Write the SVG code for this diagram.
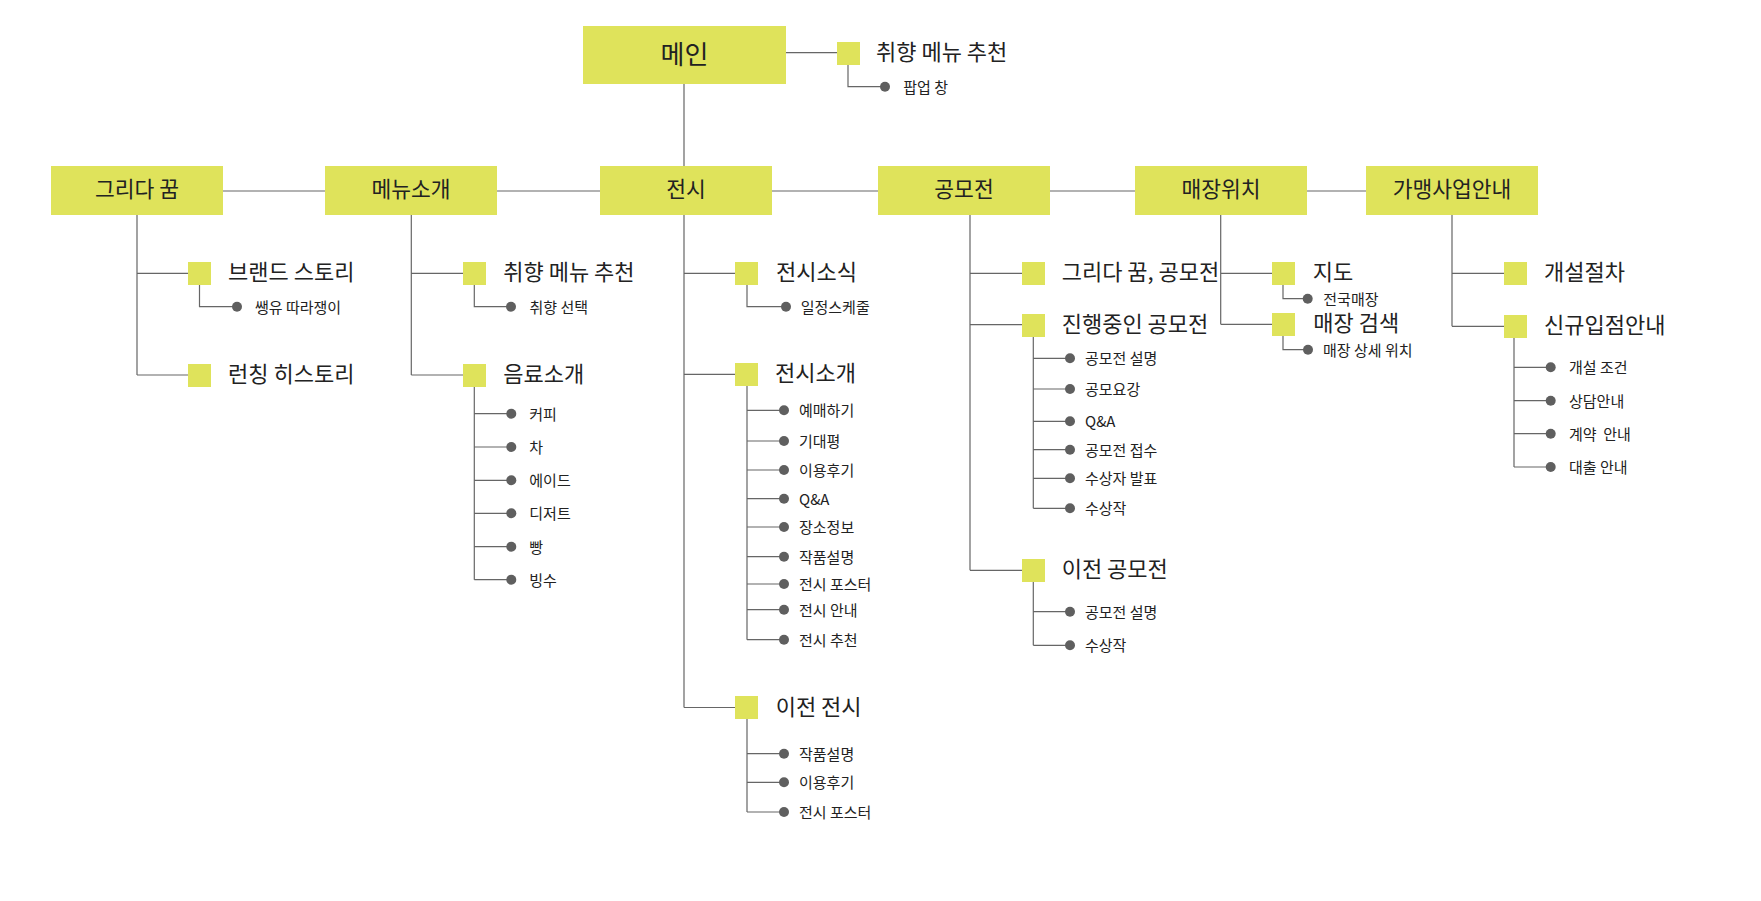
<svg xmlns="http://www.w3.org/2000/svg" width="1761" height="901" viewBox="0 0 1761 901">
<style>
text{font-family:"Noto Sans CJK KR","Noto Sans",sans-serif;fill:#222}
.box{fill:#dfe35b}
.sq{fill:#dfe35b}
.lbl{font-size:21.5px;text-anchor:middle}
.main{font-size:26px;text-anchor:middle}
.br{font-size:22px}
.lf{font-size:15px}
.dot{fill:#5f5f5f}
#connectors path{fill:none;stroke:#666;stroke-width:1.2}
</style>
<rect width="1761" height="901" fill="#fff"/>
<g id="connectors">
<path d="M684 84V166M786 52.7H837M848 64.7V86.7H885"/>
<path d="M223 191H325M497 191H600M772 191H878M1050 191H1135M1307 191H1366"/>
<path d="M137 215V375M137 273.3H188M137 375H188M199.5 285V306.7H237"/>
<path d="M411.3 215V375M411.3 273.3H463M411.3 375H463M474.3 285V306.7H511M474.3 387V579.7M474.3 413.7H511M474.3 447H511M474.3 480.3H511M474.3 513.3H511M474.3 546.7H511M474.3 579.7H511"/>
<path d="M684 215V707.5M684 273.3H735M684 374.3H735M684 707.5H735M747 285V306.7H786M747 386V639.7M747 410.3H784M747 441H784M747 470H784M747 498.7H784M747 527H784M747 556.7H784M747 584H784M747 609.7H784M747 639.7H784M747 719V812M747 753.7H784M747 782.3H784M747 812H784"/>
<path d="M970 215V570.3M970 273.3H1022M970 324.7H1022M970 570.3H1022M1033.3 337V508.3M1033.3 358.3H1070M1033.3 389H1070M1033.3 421.3H1070M1033.3 449.7H1070M1033.3 478.3H1070M1033.3 508.3H1070M1033.3 582V645.3M1033.3 611.7H1070M1033.3 645.3H1070"/>
<path d="M1220.7 215V324.3M1220.7 273.3H1272M1220.7 324.3H1272M1283 285V298.7H1307.7M1283 336V349.7H1308"/>
<path d="M1452 215V326.3M1452 273.3H1504M1452 326.3H1504M1514 338V467M1514 367.3H1550.7M1514 400.7H1550.7M1514 433.7H1550.7M1514 467H1550.7"/>
</g>
<g id="node-main"><rect class="box" x="583" y="26" width="203" height="58"/><text class="main" x="684.5" y="63.5">메인</text></g>
<g id="node-main-pref"><rect class="sq" x="837" y="42" width="23" height="23"/><text class="br" x="876" y="59.5">취향 메뉴 추천</text></g>
<g id="node-main-popup"><circle class="dot" cx="885" cy="86.7" r="5"/><text class="lf" x="903.3" y="93">팝업 창</text></g>

<g id="node-dream"><rect class="box" x="51" y="166" width="172" height="49"/><text class="lbl" x="137" y="197">그리다 꿈</text></g>
<g id="node-menu"><rect class="box" x="325" y="166" width="172" height="49"/><text class="lbl" x="411" y="197">메뉴소개</text></g>
<g id="node-exhibit"><rect class="box" x="600" y="166" width="172" height="49"/><text class="lbl" x="686" y="197">전시</text></g>
<g id="node-contest"><rect class="box" x="878" y="166" width="172" height="49"/><text class="lbl" x="964" y="197">공모전</text></g>
<g id="node-store"><rect class="box" x="1135" y="166" width="172" height="49"/><text class="lbl" x="1221" y="197">매장위치</text></g>
<g id="node-franchise"><rect class="box" x="1366" y="166" width="172" height="49"/><text class="lbl" x="1452" y="197">가맹사업안내</text></g>

<g id="node-brand"><rect class="sq" x="188" y="262" width="23" height="23"/><text class="br" x="228" y="280">브랜드 스토리</text></g>
<g id="node-brand-1"><circle class="dot" cx="237" cy="306.7" r="5"/><text class="lf" x="255" y="312.7">쌩유 따라쟁이</text></g>
<g id="node-launch"><rect class="sq" x="188" y="364" width="23" height="23"/><text class="br" x="228" y="381.5">런칭 히스토리</text></g>

<g id="node-menu-pref"><rect class="sq" x="463" y="262" width="23" height="23"/><text class="br" x="503.3" y="280">취향 메뉴 추천</text></g>
<g id="node-menu-pref-1"><circle class="dot" cx="511" cy="306.7" r="5"/><text class="lf" x="529.5" y="312.7">취향 선택</text></g>
<g id="node-drink"><rect class="sq" x="463" y="364" width="23" height="23"/><text class="br" x="503.3" y="381.5">음료소개</text></g>
<g id="node-drink-1"><circle class="dot" cx="511.3" cy="413.7" r="5"/><text class="lf" x="529.3" y="419.7">커피</text></g>
<g id="node-drink-2"><circle class="dot" cx="511.3" cy="447" r="5"/><text class="lf" x="529.3" y="453">차</text></g>
<g id="node-drink-3"><circle class="dot" cx="511.3" cy="480.3" r="5"/><text class="lf" x="529.3" y="486.3">에이드</text></g>
<g id="node-drink-4"><circle class="dot" cx="511.3" cy="513.3" r="5"/><text class="lf" x="529.3" y="519.3">디저트</text></g>
<g id="node-drink-5"><circle class="dot" cx="511.3" cy="546.7" r="5"/><text class="lf" x="529.3" y="552.7">빵</text></g>
<g id="node-drink-6"><circle class="dot" cx="511.3" cy="579.7" r="5"/><text class="lf" x="529.3" y="585.7">빙수</text></g>

<g id="node-ex-news"><rect class="sq" x="735" y="262" width="23" height="23"/><text class="br" x="776" y="280">전시소식</text></g>
<g id="node-ex-news-1"><circle class="dot" cx="786" cy="306.7" r="5"/><text class="lf" x="800.7" y="312.7">일정스케줄</text></g>
<g id="node-ex-intro"><rect class="sq" x="735" y="363" width="23" height="23"/><text class="br" x="775" y="381">전시소개</text></g>
<g id="node-ex-intro-1"><circle class="dot" cx="784" cy="410.3" r="5"/><text class="lf" x="799" y="416.3">예매하기</text></g>
<g id="node-ex-intro-2"><circle class="dot" cx="784" cy="441" r="5"/><text class="lf" x="799" y="447">기대평</text></g>
<g id="node-ex-intro-3"><circle class="dot" cx="784" cy="470" r="5"/><text class="lf" x="799" y="476">이용후기</text></g>
<g id="node-ex-intro-4"><circle class="dot" cx="784" cy="498.7" r="5"/><text class="lf" x="799" y="504.7">Q&amp;A</text></g>
<g id="node-ex-intro-5"><circle class="dot" cx="784" cy="527" r="5"/><text class="lf" x="799" y="533">장소정보</text></g>
<g id="node-ex-intro-6"><circle class="dot" cx="784" cy="556.7" r="5"/><text class="lf" x="799" y="562.7">작품설명</text></g>
<g id="node-ex-intro-7"><circle class="dot" cx="784" cy="584" r="5"/><text class="lf" x="799" y="590">전시 포스터</text></g>
<g id="node-ex-intro-8"><circle class="dot" cx="784" cy="609.7" r="5"/><text class="lf" x="799" y="615.7">전시 안내</text></g>
<g id="node-ex-intro-9"><circle class="dot" cx="784" cy="639.7" r="5"/><text class="lf" x="799" y="645.7">전시 추천</text></g>
<g id="node-ex-past"><rect class="sq" x="735" y="696" width="23" height="23"/><text class="br" x="775.7" y="714.5">이전 전시</text></g>
<g id="node-ex-past-1"><circle class="dot" cx="784" cy="753.7" r="5"/><text class="lf" x="799" y="759.7">작품설명</text></g>
<g id="node-ex-past-2"><circle class="dot" cx="784" cy="782.3" r="5"/><text class="lf" x="799" y="788.3">이용후기</text></g>
<g id="node-ex-past-3"><circle class="dot" cx="784" cy="812" r="5"/><text class="lf" x="799" y="818">전시 포스터</text></g>

<g id="node-ct-dream"><rect class="sq" x="1022" y="262" width="23" height="23"/><text class="br" x="1061.7" y="280">그리다 꿈, 공모전</text></g>
<g id="node-ct-now"><rect class="sq" x="1022" y="314" width="23" height="23"/><text class="br" x="1061.7" y="331.5">진행중인 공모전</text></g>
<g id="node-ct-now-1"><circle class="dot" cx="1070" cy="358.3" r="5"/><text class="lf" x="1085" y="364.3">공모전 설명</text></g>
<g id="node-ct-now-2"><circle class="dot" cx="1070" cy="389" r="5"/><text class="lf" x="1085" y="395">공모요강</text></g>
<g id="node-ct-now-3"><circle class="dot" cx="1070" cy="421.3" r="5"/><text class="lf" x="1085" y="427.3">Q&amp;A</text></g>
<g id="node-ct-now-4"><circle class="dot" cx="1070" cy="449.7" r="5"/><text class="lf" x="1085" y="455.7">공모전 접수</text></g>
<g id="node-ct-now-5"><circle class="dot" cx="1070" cy="478.3" r="5"/><text class="lf" x="1085" y="484.3">수상자 발표</text></g>
<g id="node-ct-now-6"><circle class="dot" cx="1070" cy="508.3" r="5"/><text class="lf" x="1085" y="514.3">수상작</text></g>
<g id="node-ct-past"><rect class="sq" x="1022" y="559" width="23" height="23"/><text class="br" x="1061.7" y="577">이전 공모전</text></g>
<g id="node-ct-past-1"><circle class="dot" cx="1070" cy="611.7" r="5"/><text class="lf" x="1085" y="617.7">공모전 설명</text></g>
<g id="node-ct-past-2"><circle class="dot" cx="1070" cy="645.3" r="5"/><text class="lf" x="1085" y="651.3">수상작</text></g>

<g id="node-st-map"><rect class="sq" x="1272" y="262" width="23" height="23"/><text class="br" x="1312.7" y="280">지도</text></g>
<g id="node-st-map-1"><circle class="dot" cx="1307.7" cy="298.7" r="5"/><text class="lf" x="1323.3" y="304.7">전국매장</text></g>
<g id="node-st-search"><rect class="sq" x="1272" y="313" width="23" height="23"/><text class="br" x="1313.3" y="331">매장 검색</text></g>
<g id="node-st-search-1"><circle class="dot" cx="1308" cy="349.7" r="5"/><text class="lf" x="1323" y="355.7">매장 상세 위치</text></g>

<g id="node-fr-proc"><rect class="sq" x="1504" y="262" width="23" height="23"/><text class="br" x="1544" y="280">개설절차</text></g>
<g id="node-fr-new"><rect class="sq" x="1504" y="315" width="23" height="23"/><text class="br" x="1544" y="333">신규입점안내</text></g>
<g id="node-fr-new-1"><circle class="dot" cx="1550.7" cy="367.3" r="5"/><text class="lf" x="1569" y="373.3">개설 조건</text></g>
<g id="node-fr-new-2"><circle class="dot" cx="1550.7" cy="400.7" r="5"/><text class="lf" x="1569" y="406.7">상담안내</text></g>
<g id="node-fr-new-3"><circle class="dot" cx="1550.7" cy="433.7" r="5"/><text class="lf" x="1569" y="439.7" xml:space="preserve">계약  안내</text></g>
<g id="node-fr-new-4"><circle class="dot" cx="1550.7" cy="467" r="5"/><text class="lf" x="1569" y="473">대출 안내</text></g>
</svg>
